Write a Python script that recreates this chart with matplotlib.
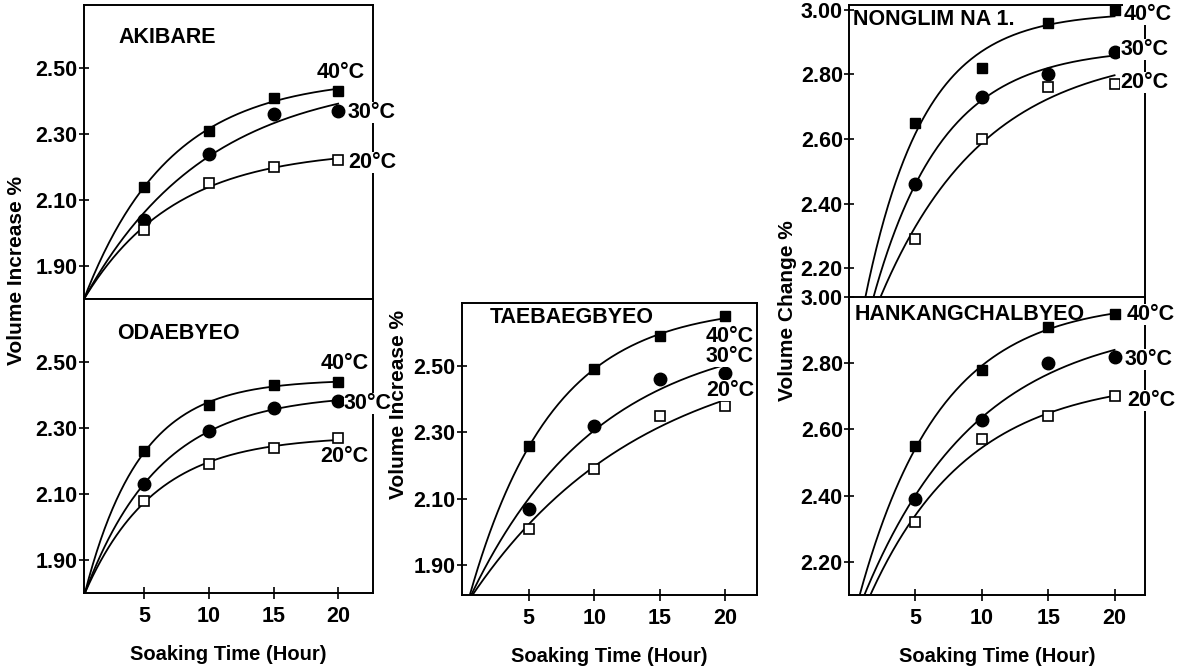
import numpy as np
import matplotlib
matplotlib.use("Agg")
import matplotlib.pyplot as plt

plt.rcParams["font.family"] = ["Liberation Sans", "DejaVu Sans"]
plt.rcParams["font.weight"] = "bold"
plt.rcParams["axes.labelweight"] = "bold"

hours = [5, 10, 15, 20]
temps = ["40°C", "30°C", "20°C"]

# volume increase readings, one list per temperature (40, 30, 20 C)
akibare = [[2.14, 2.31, 2.41, 2.43], [2.04, 2.24, 2.36, 2.37], [2.01, 2.15, 2.20, 2.22]]
odaebyeo = [[2.23, 2.37, 2.43, 2.44], [2.13, 2.29, 2.36, 2.38], [2.08, 2.19, 2.24, 2.27]]
taebaeg = [[2.26, 2.49, 2.59, 2.65], [2.07, 2.32, 2.46, 2.48], [2.01, 2.19, 2.35, 2.38]]
nonglim = [[2.65, 2.82, 2.96, 3.00], [2.46, 2.73, 2.80, 2.87], [2.29, 2.60, 2.76, 2.77]]
hankang = [[2.55, 2.78, 2.91, 2.95], [2.39, 2.63, 2.80, 2.82], [2.32, 2.57, 2.64, 2.70]]

# where each fitted curve leaves the bottom of its panel (hour, value)
akibare_start = [(0.33, 1.80), (0.33, 1.80), (0.33, 1.80)]
odaebyeo_start = [(0.4, 1.80), (0.4, 1.80), (0.4, 1.80)]
taebaeg_start = [(0.5, 1.81), (0.6, 1.81), (0.7, 1.81)]
nonglim_start = [(1.2, 2.105), (1.8, 2.105), (2.3, 2.105)]
hankang_start = [(0.8, 2.10), (1.15, 2.10), (1.6, 2.10)]


def fit_curve(t, y, start):
    # y = a + b*exp(-k t), start point weighted heavily
    tt = np.r_[start[0], t]
    yy = np.r_[start[1], y]
    w = np.r_[6.0, np.ones(len(t))]
    best = None
    for k in np.linspace(0.01, 0.8, 800):
        A = np.c_[np.ones_like(tt), np.exp(-k * tt)] * w[:, None]
        coef = np.linalg.lstsq(A, yy * w, rcond=None)[0]
        r = np.sum((A @ coef - yy * w) ** 2)
        if best is None or r < best[0]:
            best = (r, k, coef)
    _, k, (a, b) = best
    return lambda x: a + b * np.exp(-k * x)


fig = plt.figure(figsize=(11.86, 6.67), dpi=100)

markers = [dict(marker="s", ms=7.5, mfc="black", mec="black"),
           dict(marker="o", ms=9, mfc="black", mec="black"),
           dict(marker="s", ms=6.5, mfc="white", mec="black", mew=1.2)]

panels = [
    # name, data, starts, rect, xlim, ylim, yticks, title pos, label pos, show x
    ("AKIBARE", akibare, akibare_start, [0.0708, 0.5517, 0.2437, 0.4408],
     (0.33, 22.7), (1.80, 2.69), [1.90, 2.10, 2.30, 2.50], (0.118, 0.888),
     [(0.806, 0.772), (0.913, 0.633), (0.913, 0.463)], False),
    ("ODAEBYEO", odaebyeo, odaebyeo_start, [0.0708, 0.1109, 0.2437, 0.4408],
     (0.33, 22.7), (1.80, 2.69), [1.90, 2.10, 2.30, 2.50], (0.115, 0.884),
     [(0.819, 0.782), (0.899, 0.646), (0.819, 0.463)], True),
    ("TAEBAEGBYEO", taebaeg, taebaeg_start, [0.3895, 0.1079, 0.2487, 0.4378],
     (-0.1, 22.4), (1.81, 2.69), [1.90, 2.10, 2.30, 2.50], (0.095, 0.949),
     [(0.827, 0.886), (0.827, 0.818), (0.827, 0.702)], True),
    ("NONGLIM NA 1.", nonglim, nonglim_start, [0.7159, 0.5517, 0.2496, 0.4408],
     (0.0, 22.3), (2.105, 3.015), [2.20, 2.40, 2.60, 2.80, 3.00], (0.012, 0.949),
     [(0.926, 0.966), (0.916, 0.847), (0.916, 0.738)], False),
    ("HANKANGCHALBYEO", hankang, hankang_start, [0.7159, 0.1079, 0.2496, 0.4468],
     (0.0, 22.3), (2.10, 3.00), [2.20, 2.40, 2.60, 2.80, 3.00], (0.02, 0.943),
     [(0.939, 0.940), (0.932, 0.789), (0.939, 0.654)], True),
]

for name, data, starts, rect, xlim, ylim, yticks, tpos, lpos, showx in panels:
    ax = fig.add_axes(rect)
    for i, vals in enumerate(data):
        f = fit_curve(np.array(hours, float), np.array(vals), starts[i])
        xs = np.linspace(starts[i][0] - 0.6, 20, 200)
        ax.plot(xs, f(xs), color="black", lw=1.3)
        ax.plot(hours, vals, ls="none", **markers[i])
        ax.text(lpos[i][0], lpos[i][1], temps[i], transform=ax.transAxes,
                fontsize=15.5, ha="left", va="center", clip_on=False, zorder=5,
                bbox=dict(facecolor="white", edgecolor="none", pad=0.0))
    ax.text(tpos[0], tpos[1], name, transform=ax.transAxes, fontsize=15.5,
            ha="left", va="center")
    ax.set_xlim(*xlim)
    ax.set_ylim(*ylim)
    ax.set_yticks(yticks)
    ax.set_yticklabels(["%.2f" % v for v in yticks])
    ax.set_xticks(hours)
    if showx:
        ax.set_xticklabels([str(h) for h in hours])
        ax.set_xlabel("Soaking Time (Hour)", fontsize=14.5, labelpad=13)
    else:
        ax.set_xticklabels([])
        ax.tick_params(axis="x", length=0)
    ax.tick_params(axis="both", direction="inout", labelsize=15.5, width=1.2)
    ax.tick_params(axis="y", length=7, pad=1)
    if showx:
        ax.tick_params(axis="x", length=9, pad=5)
    for s in ax.spines.values():
        s.set_linewidth(1.4)

fig.text(0.014, 0.595, "Volume Increase %", rotation=90, fontsize=15,
         ha="center", va="center")
fig.text(0.336, 0.393, "Volume Increase %", rotation=90, fontsize=15,
         ha="center", va="center")
fig.text(0.664, 0.535, "Volume Change %", rotation=90, fontsize=15,
         ha="center", va="center")

fig.savefig("out.png", dpi=100)
